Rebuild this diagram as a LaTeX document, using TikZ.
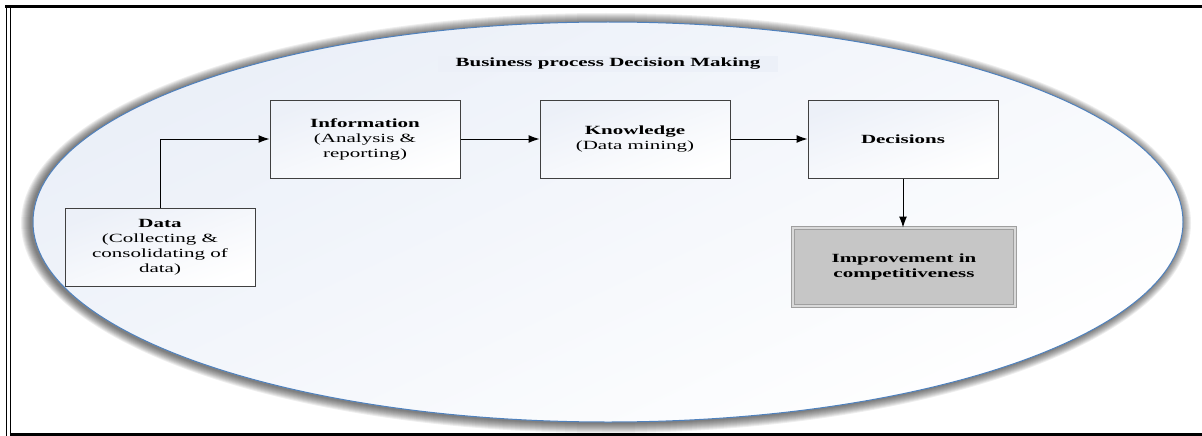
\documentclass[tikz,border=0pt]{standalone}
\usepackage{fontspec}
\setmainfont{Liberation Serif}[FakeStretch=1.68]
\usetikzlibrary{arrows.meta}
\definecolor{ovalblue}{RGB}{79,129,189}
\definecolor{ovaltint}{RGB}{234,239,248}
\definecolor{boxtint}{RGB}{236,240,248}
\definecolor{boxline}{RGB}{64,64,64}
\definecolor{goalfill}{RGB}{198,198,198}
\begin{document}
\begin{tikzpicture}[x=1pt,y=-1pt,
  box/.style={draw=boxline,line width=1pt,minimum width=190pt,minimum height=78pt,
    align=center,top color=boxtint,bottom color=white,shading angle=20,
    font=\fontsize{12.5}{15}\selectfont},
  goal/.style={box,minimum width=222pt,fill=goalfill,top color=goalfill,bottom color=goalfill,
    draw=gray!75,double=gray!30,double distance=1.5pt},
  flow/.style={-{Latex[length=11pt,width=8pt]},line width=1pt}]
\useasboundingbox (0,0) rectangle (1202,436);
% frame
\draw[line width=1.5pt] (6.5,5) -- (6.5,436);
\draw[line width=3pt] (5,6.5) -- (1202,6.5);
\draw[line width=1.5pt] (10.5,8) -- (10.5,434.5);
\draw[line width=2.5pt] (9.75,434.5) -- (1202,434.5);
% oval with soft shadow
\foreach \k in {10,...,1}
{
    \fill[black,opacity=0.065] (606,223) ellipse ({575+\k} and {200+\k});
}
\shade[top color=ovaltint,bottom color=white,shading angle=25] (608,222) ellipse (575 and 200);
\draw[ovalblue,line width=1pt] (608,222) ellipse (575 and 200);
% title
\node[fill=boxtint,minimum width=340pt,minimum height=16pt,inner sep=0pt,
  font=\fontsize{12.5}{15}\selectfont\bfseries] (title) at (608,64) {Business process Decision Making};
% steps
\node[box] (data) at (160,247) {\textbf{Data}\\(Collecting \&\\consolidating of\\data)};
\node[box] (info) at (365,139) {\textbf{Information}\\(Analysis \&\\reporting)};
\node[box] (know) at (635,139) {\textbf{Knowledge}\\(Data mining)};
\node[box] (dec) at (903,139) {\textbf{Decisions}};
\node[goal] (impr) at (904,267) {\textbf{Improvement in}\\\textbf{competitiveness}};
% arrows
\draw[flow] (data.north) |- (info.west);
\draw[flow] (info.east) -- (know.west);
\draw[flow] (know.east) -- (dec.west);
\draw[flow] (dec.south) -- (dec.south |- impr.north);
\end{tikzpicture}
\end{document}
